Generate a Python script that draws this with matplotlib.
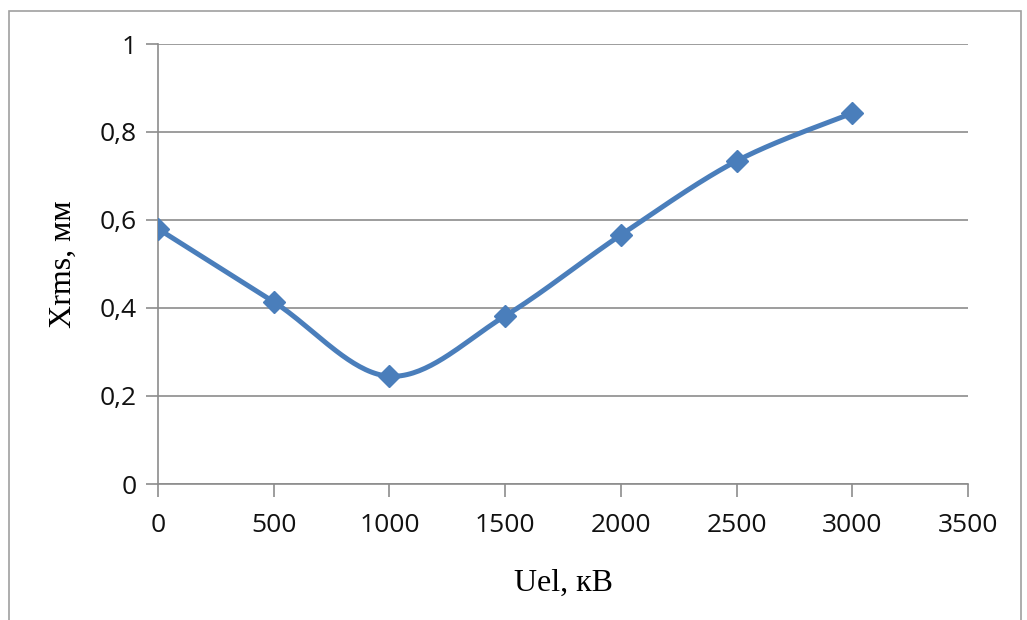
import numpy as np
import matplotlib
matplotlib.use("Agg")
import matplotlib.pyplot as plt
from matplotlib.patches import Rectangle

# data
u_el = [0, 500, 1000, 1500, 2000, 2500, 3000]
x_rms = [0.58, 0.414, 0.245, 0.382, 0.566, 0.734, 0.843]

x_ticks = [0, 500, 1000, 1500, 2000, 2500, 3000, 3500]
y_ticks = [0, 0.2, 0.4, 0.6, 0.8, 1.0]
y_tick_labels = ["0", "0,2", "0,4", "0,6", "0,8", "1"]


def smooth_curve(xs, ys, n=40):
    # Excel-like smoothing: cubic Bezier segments with Catmull-Rom control points
    xs = np.asarray(xs, float)
    ys = np.asarray(ys, float)
    px = np.concatenate([[xs[0]], xs, [xs[-1]]])
    py = np.concatenate([[ys[0]], ys, [ys[-1]]])
    outx, outy = [], []
    t = np.linspace(0, 1, n)
    for i in range(1, len(px) - 2):
        p0 = np.array([px[i], py[i]])
        p3 = np.array([px[i + 1], py[i + 1]])
        c1 = p0 + (np.array([px[i + 1], py[i + 1]]) - np.array([px[i - 1], py[i - 1]])) / 6
        c2 = p3 - (np.array([px[i + 2], py[i + 2]]) - np.array([px[i], py[i]])) / 6
        b = ((1 - t) ** 3)[:, None] * p0 + (3 * (1 - t) ** 2 * t)[:, None] * c1 \
            + (3 * (1 - t) * t ** 2)[:, None] * c2 + (t ** 3)[:, None] * p3
        outx.extend(b[:, 0])
        outy.extend(b[:, 1])
    return outx, outy


fig = plt.figure(figsize=(10.27, 6.2), dpi=100)
ax = fig.add_axes([158 / 1027, 1 - 484 / 620, 810 / 1027, 440 / 620])

# outer frame like the pasted chart
fig.patches.append(Rectangle((9 / 1027, -0.05), 1012 / 1027, 1 - 11 / 620 + 0.05,
                             transform=fig.transFigure, fill=False,
                             edgecolor="#a0a0a0", linewidth=1.2))

sx, sy = smooth_curve(u_el, x_rms)
ax.plot(sx, sy, color="#4a7ebb", linewidth=3.6, solid_capstyle="round", zorder=3)
ax.plot(u_el, x_rms, linestyle="none", marker="D", markersize=11.5,
        color="#4a7ebb", zorder=4)

ax.set_xlim(0, 3500)
ax.set_ylim(0, 1)
ax.set_xticks(x_ticks)
ax.set_yticks(y_ticks)
ax.set_yticklabels(y_tick_labels)

grid_c = "#8c8c8c"
ax.yaxis.grid(True, color=grid_c, linewidth=1.2)
ax.set_axisbelow(True)
for s in ["top", "right"]:
    ax.spines[s].set_visible(False)
for s in ["left", "bottom"]:
    ax.spines[s].set_color(grid_c)
    ax.spines[s].set_linewidth(1.2)
ax.tick_params(axis="both", colors=grid_c, length=9, width=1.2,
               labelcolor="#111111", labelsize=19)
ax.tick_params(axis="x", pad=12)
ax.tick_params(axis="y", pad=6)
for lab in ax.get_xticklabels() + ax.get_yticklabels():
    lab.set_family("Open Sans")

ax.set_xlabel("Uel, кВ", family="Liberation Serif", fontsize=23, labelpad=22)
ax.set_ylabel("Xrms, мм", family="Liberation Serif", fontsize=23, labelpad=16)

fig.savefig("out.png", dpi=100)
